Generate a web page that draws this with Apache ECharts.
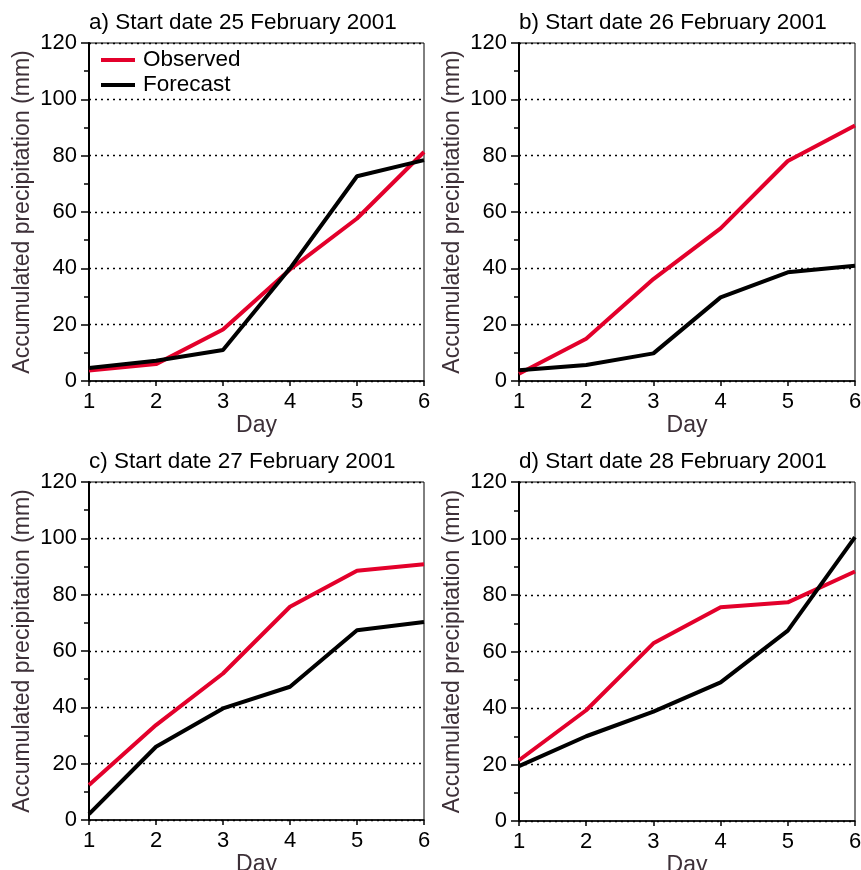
<!DOCTYPE html>
<html>
<head>
<meta charset="utf-8">
<script src="https://cdn.jsdelivr.net/npm/echarts@6/dist/echarts.min.js"></script>
<style>
  html, body { margin: 0; padding: 0; background: #fff; }
  #main { width: 861px; height: 870px; }
</style>
</head>
<body>
<div id="main"></div>
<script>
// days on the x axis
var days = [1, 2, 3, 4, 5, 6];
var yTicks = [0, 20, 40, 60, 80, 100, 120];

var panelTitles = [
  'a) Start date 25 February 2001',
  'b) Start date 26 February 2001',
  'c) Start date 27 February 2001',
  'd) Start date 28 February 2001'
];

// accumulated precipitation (mm)
var obsA = [3.7, 6.0, 18.3, 39.6, 57.7, 81.3];
var fcA  = [4.6, 7.2, 11.0, 40.0, 72.7, 78.4];
var obsB = [2.6, 15.0, 36.2, 54.2, 78.1, 90.7];
var fcB  = [3.8, 5.7, 9.8, 29.7, 38.6, 40.9];
var obsC = [12.4, 33.7, 52.0, 75.7, 88.5, 90.8];
var fcC  = [2.1, 26.0, 39.6, 47.3, 67.4, 70.3];
var obsD = [21.5, 39.2, 62.9, 75.7, 77.4, 88.3];
var fcD  = [19.4, 30.0, 38.7, 49.1, 67.4, 100.5];

var observed = [obsA, obsB, obsC, obsD];
var forecast = [fcA, fcB, fcC, fcD];

var FONT = '"Liberation Sans", Arial, Helvetica, sans-serif';
var RED = '#e3002b';
var NAME_COLOR = '#3d3038';

var grids = [
  { left: 89, top: 43, width: 335, height: 338 },
  { left: 519, top: 43, width: 336, height: 338 },
  { left: 89, top: 482, width: 335, height: 338 },
  { left: 519, top: 482, width: 336, height: 339 }
];

function pairs(vals) {
  return days.map(function (d, i) { return [d, vals[i]]; });
}

var option = {
  backgroundColor: '#fff',
  animation: false,
  title: [],
  legend: {
    left: 101,
    top: 48.5,
    orient: 'vertical',
    icon: 'rect',
    itemWidth: 34,
    itemHeight: 4,
    itemGap: 2,
    padding: 0,
    textStyle: { fontSize: 22.5, fontFamily: FONT, color: '#000', padding: [0, 0, 0, 3] },
    data: ['Observed', 'Forecast']
  },
  grid: [],
  xAxis: [],
  yAxis: [],
  series: []
};

grids.forEach(function (g, i) {
  option.title.push({
    text: panelTitles[i],
    left: g.left,
    top: g.top - 32,
    padding: 0,
    textStyle: { fontSize: 22.5, fontWeight: 'normal', fontFamily: FONT, color: '#000' }
  });
  // outerBoundsMode none: keep the grid where it is even if "Day" runs off the bottom
  option.grid.push({
    left: g.left, top: g.top, width: g.width, height: g.height,
    outerBoundsMode: 'none',
    containLabel: false,
    show: true, borderColor: '#000', borderWidth: 1
  });
  option.xAxis.push({
    type: 'value',
    gridIndex: i,
    min: days[0],
    max: days[days.length - 1],
    interval: 1,
    name: 'Day',
    nameLocation: 'middle',
    nameGap: 30,
    nameTextStyle: { fontSize: 23, fontFamily: FONT, color: NAME_COLOR },
    axisLine: { lineStyle: { color: '#000', width: 1.5 } },
    axisTick: { show: true, inside: false, length: 5, lineStyle: { color: '#000', width: 1.5 } },
    axisLabel: { fontSize: 22, fontFamily: FONT, color: '#000', margin: 10 },
    splitLine: { show: false }
  });
  option.yAxis.push({
    type: 'value',
    gridIndex: i,
    min: yTicks[0],
    max: yTicks[yTicks.length - 1],
    interval: 20,
    name: 'Accumulated precipitation (mm)',
    nameLocation: 'middle',
    nameGap: 55,
    nameTextStyle: { fontSize: 23, fontFamily: FONT, color: NAME_COLOR },
    axisLine: { show: true, lineStyle: { color: '#000', width: 2 } },
    axisTick: { show: true, inside: false, length: 8, lineStyle: { color: '#000', width: 1.5 } },
    minorTick: { show: true, splitNumber: 2, length: 5, lineStyle: { color: '#000', width: 1.5 } },
    axisLabel: { fontSize: 22, fontFamily: FONT, color: '#000', margin: 12 },
    splitLine: { show: true, lineStyle: { color: '#000', width: 1.3, type: [2, 4] } }
  });
  option.series.push({
    name: 'Observed',
    type: 'line',
    xAxisIndex: i,
    yAxisIndex: i,
    showSymbol: false,
    symbol: 'none',
    color: RED,
    lineStyle: { color: RED, width: 4 },
    data: pairs(observed[i])
  });
  option.series.push({
    name: 'Forecast',
    type: 'line',
    xAxisIndex: i,
    yAxisIndex: i,
    showSymbol: false,
    symbol: 'none',
    color: '#000',
    lineStyle: { color: '#000', width: 4 },
    data: pairs(forecast[i])
  });
});

var myChart = echarts.init(document.getElementById('main'));
myChart.setOption(option);
</script>
</body>
</html>
